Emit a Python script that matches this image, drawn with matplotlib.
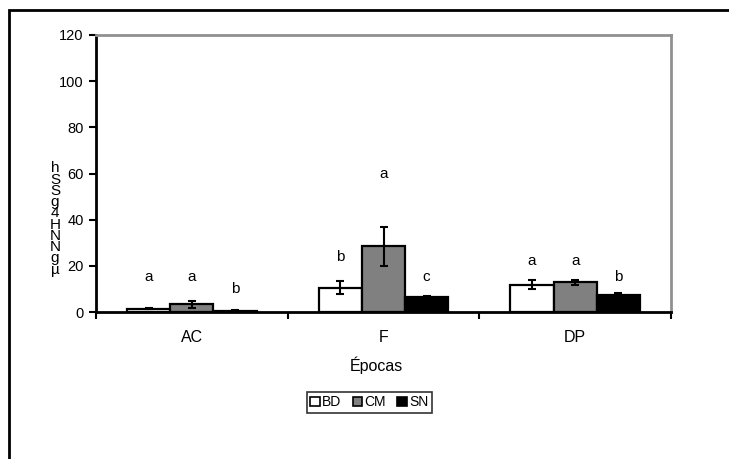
import matplotlib.pyplot as plt
from matplotlib.patches import Rectangle
import numpy as np

plt.rcParams['font.family'] = ['Liberation Sans', 'DejaVu Sans']

epocas = ['AC', 'F', 'DP']
series = ['BD', 'CM', 'SN']
colors = ['white', '#808080', 'black']

bd = [1.5, 10.6, 11.8]
cm = [3.3, 28.5, 12.8]
sn = [0.5, 6.6, 7.2]
bd_err = [0.3, 2.7, 2.0]
cm_err = [1.4, 8.5, 1.0]
sn_err = [0.2, 0.5, 1.0]

# letras de significancia y su altura
letras = [['a', 'a', 'b'], ['b', 'a', 'c'], ['a', 'a', 'b']]
letra_y = [[15, 15, 10], [23.7, 60, 15], [22, 22, 15]]

values = [bd, cm, sn]
errors = [bd_err, cm_err, sn_err]

fig = plt.figure(figsize=(7.29, 4.59), dpi=100)
ax = fig.add_axes([96 / 729, 1 - 312 / 459, (671 - 96) / 729, (312 - 35) / 459])

x = np.arange(len(epocas))
w = 0.225
handles = []
for i in range(3):
    pos = x + (i - 1) * w
    b = ax.bar(pos, values[i], w, color=colors[i], edgecolor='black', linewidth=1.6,
               yerr=errors[i], error_kw=dict(ecolor='black', elinewidth=1.5, capsize=3, capthick=1.5),
               label=series[i], zorder=2)
    handles.append(b)
    for j in range(3):
        ax.text(pos[j], letra_y[j][i], letras[j][i], ha='center', va='center', fontsize=11)

ax.set_xlim(-0.5, 2.5)
ax.set_ylim(0, 120)
ax.set_yticks([0, 20, 40, 60, 80, 100, 120])
ax.set_xticks(x)
ax.set_xticklabels(epocas, fontsize=11.5)
ax.tick_params(axis='x', length=0, pad=13)
ax.set_xticks([-0.5, 0.5, 1.5, 2.5], minor=True)
ax.tick_params(axis='x', which='minor', length=5, width=1.5, direction='out')
ax.tick_params(axis='y', labelsize=10.5, length=5, width=1.5, direction='out', pad=4)

for s in ['left', 'bottom']:
    ax.spines[s].set_linewidth(2)
    ax.spines[s].set_color('black')
for s in ['top', 'right']:
    ax.spines[s].set_linewidth(2)
    ax.spines[s].set_color('#909090')

ax.set_xlabel('Épocas', fontsize=11.5, va='center')
ax.xaxis.set_label_coords((376 - 96) / 575, (312 - 365) / 277)

# etiqueta del eje y (caracteres apilados)
ylab = ['h', 'S', 'S', 'g', '4', 'H', 'N', 'N', 'g', 'µ']
fig.text(55 / 729, 1 - 219 / 459, '\n'.join(ylab), ha='center', va='center',
         fontsize=11, linespacing=0.75)

leg = fig.legend(handles=handles, labels=series, loc='upper left', bbox_to_anchor=(307 / 729, 1 - 392 / 459),
                 ncol=3, fontsize=10, frameon=True, fancybox=False, edgecolor='black',
                 handlelength=0.7, handleheight=0.7, handletextpad=0.15, columnspacing=0.8,
                 borderpad=0.25, borderaxespad=0)
leg.get_frame().set_linewidth(1.2)
for h in leg.legend_handles:
    h.set_linewidth(1.2)

fig.patches.append(Rectangle((9 / 729, -0.05), 1.1, 1 - 10 / 459 + 0.05, transform=fig.transFigure,
                             fill=False, edgecolor='black', linewidth=2))

fig.savefig('out.png', dpi=100)
